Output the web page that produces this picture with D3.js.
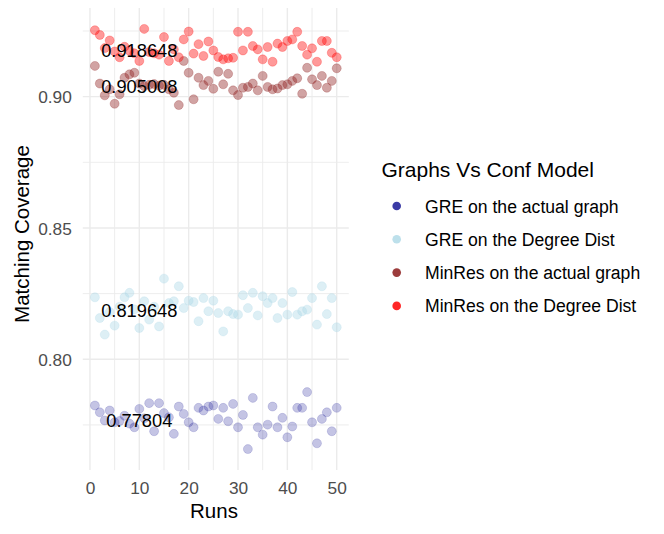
<!DOCTYPE html>
<html><head><meta charset="utf-8">
<script src="https://cdn.jsdelivr.net/npm/d3@7"></script>
<style>body{margin:0;background:#fff}svg{display:block}text{font-family:"Liberation Sans",Arial,sans-serif}</style></head>
<body><svg id="c" width="664" height="534"></svg>
<script>
const runs = d3.range(1, 51);
const greActual = [0.7824,0.7798,0.7767,0.7805,0.7760,0.7765,0.7785,0.7755,0.7741,0.7811,
  0.7775,0.7833,0.7726,0.7833,0.7795,0.7779,0.7716,0.7820,0.7792,0.7760,
  0.7741,0.7815,0.7805,0.7820,0.7824,0.7773,0.7815,0.7764,0.7830,0.7741,
  0.7788,0.7658,0.7853,0.7741,0.7713,0.7751,0.7820,0.7741,0.7777,0.7703,
  0.7744,0.7815,0.7815,0.7875,0.7760,0.7680,0.7773,0.7798,0.7726,0.7815];
const greDegree = [0.8236,0.8157,0.8094,0.8180,0.8128,0.8200,0.8236,0.8253,0.8190,0.8119,
  0.8221,0.8151,0.8200,0.8125,0.8307,0.8214,0.8221,0.8278,0.8195,0.8223,
  0.8218,0.8145,0.8233,0.8183,0.8223,0.8176,0.8106,0.8183,0.8172,0.8170,
  0.8244,0.8195,0.8253,0.8167,0.8240,0.8214,0.8233,0.8157,0.8214,0.8170,
  0.8256,0.8170,0.8183,0.8189,0.8233,0.8132,0.8278,0.8172,0.8233,0.8122];
const minresActual = [0.9117,0.9050,0.9005,0.9028,0.8973,0.9009,0.9072,0.9085,0.9091,0.9050,
  0.9040,0.9045,0.9048,0.9042,0.9045,0.9028,0.9015,0.8968,0.9136,0.9091,
  0.8990,0.9072,0.9044,0.9060,0.9030,0.9095,0.9047,0.9087,0.9024,0.9006,
  0.9034,0.9037,0.9050,0.9024,0.9079,0.9037,0.9028,0.9031,0.9044,0.9047,
  0.9060,0.9070,0.9011,0.9110,0.9066,0.9044,0.9079,0.9034,0.9060,0.9108];
const minresDegree = [0.9253,0.9235,0.9185,0.9214,0.9172,0.9150,0.9190,0.9175,0.9165,0.9136,
  0.9258,0.9170,0.9165,0.9160,0.9227,0.9136,0.9180,0.9150,0.9218,0.9248,
  0.9164,0.9200,0.9155,0.9210,0.9176,0.9151,0.9142,0.9146,0.9148,0.9247,
  0.9176,0.9247,0.9193,0.9180,0.9142,0.9189,0.9133,0.9202,0.9189,0.9212,
  0.9218,0.9247,0.9193,0.9160,0.9184,0.9133,0.9212,0.9212,0.9167,0.9150];
const seriesNames = ["GRE on the actual graph","GRE on the Degree Dist","MinRes on the actual graph","MinRes on the Degree Dist"];
const seriesColors = ["#00008B","#ADD8E6","#8B1A1A","#FF0000"];
const seriesPointAlpha = [0.23,0.42,0.4,0.4];
const seriesKeyAlpha = [0.77,0.8,0.85,0.85];
const meanLabels = ["0.918648","0.905008","0.819648","0.77804"];
const meanValues = [0.918648,0.905008,0.819648,0.77804];
const labelRun = 10;
const xTicks = [0,10,20,30,40,50];
const xMinor = [5,15,25,35,45];
const yTicks = [0.80,0.85,0.90];
const yMinor = [0.775,0.825,0.875,0.925];

const seriesValues = [greActual, greDegree, minresActual, minresDegree];
const svg = d3.select("#c");
const panel = {left: 82.8, right: 348.8, top: 7.9, bottom: 470.1};

const xExt = d3.extent(runs), xPad = (xExt[1]-xExt[0])*0.05;
const x = d3.scaleLinear().domain([xExt[0]-xPad, xExt[1]+xPad]).range([panel.left, panel.right]);
const allV = seriesValues.flat();
const yExt = d3.extent(allV), yPad = (yExt[1]-yExt[0])*0.05;
const y = d3.scaleLinear().domain([yExt[0]-yPad, yExt[1]+yPad]).range([panel.bottom, panel.top]);

const grid = svg.append("g");
grid.selectAll(".ym").data(yMinor).join("line")
  .attr("x1", panel.left).attr("x2", panel.right).attr("y1", d=>y(d)).attr("y2", d=>y(d))
  .attr("stroke","#ebebeb").attr("stroke-width",0.9);
grid.selectAll(".xm").data(xMinor).join("line")
  .attr("y1", panel.top).attr("y2", panel.bottom).attr("x1", d=>x(d)).attr("x2", d=>x(d))
  .attr("stroke","#ebebeb").attr("stroke-width",0.9);
grid.selectAll(".yM").data(yTicks).join("line")
  .attr("x1", panel.left).attr("x2", panel.right).attr("y1", d=>y(d)).attr("y2", d=>y(d))
  .attr("stroke","#ebebeb").attr("stroke-width",1.4);
grid.selectAll(".xM").data(xTicks).join("line")
  .attr("y1", panel.top).attr("y2", panel.bottom).attr("x1", d=>x(d)).attr("x2", d=>x(d))
  .attr("stroke","#ebebeb").attr("stroke-width",1.4);

// axes (ticks as text only)
const xAxis = d3.axisBottom(x).tickValues(xTicks).tickSize(0).tickPadding(0);
const gx = svg.append("g").attr("transform", `translate(0,${panel.bottom})`).call(xAxis);
gx.select(".domain").remove();
gx.selectAll("text").attr("y", 23.5).attr("dy", null).attr("fill","#4d4d4d")
  .style("font-size","17.3px").style("font-family",'"Liberation Sans",Arial,sans-serif');

const yAxis = d3.axisLeft(y).tickValues(yTicks).tickFormat(d3.format(".2f")).tickSize(0).tickPadding(0);
const gy = svg.append("g").attr("transform", `translate(${panel.left - 11},0)`).call(yAxis);
gy.select(".domain").remove();
gy.selectAll("text").attr("x", 0).attr("dy", "0.36em").attr("fill","#4d4d4d")
  .style("font-size","17.3px").style("font-family",'"Liberation Sans",Arial,sans-serif');

// points
seriesValues.forEach((vals, si) => {
  svg.append("g").selectAll("circle").data(runs.map((r,i)=>({r, v: vals[i]}))).join("circle")
    .attr("cx", d=>x(d.r)).attr("cy", d=>y(d.v)).attr("r", 4.5)
    .attr("fill", seriesColors[si]).attr("fill-opacity", seriesPointAlpha[si])
    .attr("stroke", seriesColors[si]).attr("stroke-opacity", seriesPointAlpha[si]*0.6).attr("stroke-width", 1);
});

// mean labels
svg.append("g").selectAll("text").data(meanValues).join("text")
  .attr("x", x(labelRun)).attr("y", d=>y(d)+9.8).attr("text-anchor","middle")
  .style("font-size","18.3px").attr("fill","#000")
  .text((d,i)=>meanLabels[i]);

// axis titles
svg.append("text").attr("x", 214).attr("y", 518.3).attr("text-anchor","middle")
  .style("font-size","20.5px").attr("fill","#000").text("Runs");
svg.append("text").attr("transform","translate(29,234) rotate(-90)").attr("text-anchor","middle")
  .style("font-size","20.5px").attr("fill","#000").text("Matching Coverage");

// legend
const lg = svg.append("g");
lg.append("text").attr("x", 381.5).attr("y", 176.7).style("font-size","21px").attr("fill","#000").text("Graphs Vs Conf Model");
const keyY = d3.scaleLinear().domain([0,1]).range([206, 239.3]);
lg.selectAll("circle").data(seriesNames).join("circle")
  .attr("cx", 396.7).attr("cy", (d,i)=>keyY(i)).attr("r", 4.3)
  .attr("fill", (d,i)=>seriesColors[i]).attr("fill-opacity",(d,i)=>seriesKeyAlpha[i]);
lg.selectAll("text.item").data(seriesNames).join("text").attr("class","item")
  .attr("x", 425).attr("y", (d,i)=>keyY(i)+6.5)
  .style("font-size","17.6px").attr("fill","#000").text(d=>d);
</script></body></html>
